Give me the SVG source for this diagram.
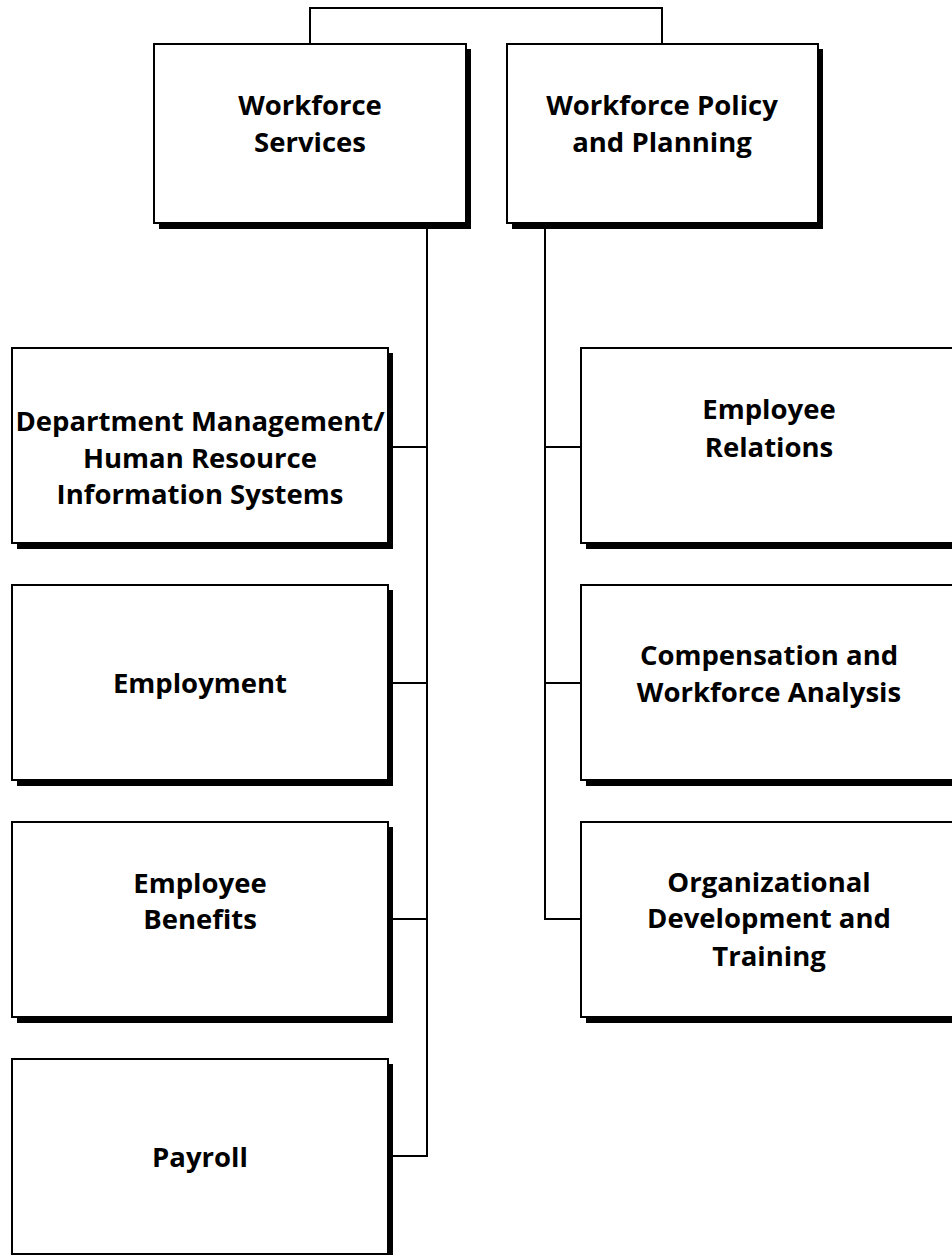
<svg xmlns="http://www.w3.org/2000/svg" width="952" height="1255" viewBox="0 0 952 1255">
<style>
.sh{fill:#000}
.bx{fill:#fff;stroke:#000;stroke-width:2}
.ln{fill:none;stroke:#000;stroke-width:2}
text{font-family:"Open Sans","Liberation Sans",sans-serif;font-weight:bold;font-size:27.5px;fill:#000;text-anchor:middle}
</style>
<rect width="952" height="1255" fill="#fff"/>
<g id="connectors">
<polyline class="ln" points="310,44 310,8 662,8 662,44"/>
<line class="ln" x1="427" y1="228" x2="427" y2="1157"/>
<line class="ln" x1="388" y1="447" x2="427" y2="447"/>
<line class="ln" x1="388" y1="683" x2="427" y2="683"/>
<line class="ln" x1="388" y1="919" x2="427" y2="919"/>
<line class="ln" x1="388" y1="1156" x2="428" y2="1156"/>
<line class="ln" x1="545" y1="228" x2="545" y2="919"/>
<line class="ln" x1="545" y1="447" x2="581" y2="447"/>
<line class="ln" x1="545" y1="683" x2="581" y2="683"/>
<line class="ln" x1="544" y1="919" x2="581" y2="919"/>
</g>
<g id="workforce-services">
<rect class="sh" x="159" y="49" width="312" height="180"/>
<rect class="bx" x="154" y="44" width="312" height="179"/>
<text x="310" y="115">Workforce</text>
<text x="310" y="152">Services</text>
</g>
<g id="workforce-policy">
<rect class="sh" x="512" y="49" width="311" height="180"/>
<rect class="bx" x="507" y="44" width="311" height="179"/>
<text x="662" y="115">Workforce Policy</text>
<text x="662" y="152">and Planning</text>
</g>
<g id="dept-mgmt">
<rect class="sh" x="17" y="353" width="376" height="196"/>
<rect class="bx" x="12" y="348" width="376" height="195"/>
<text x="200" y="431">Department Management/</text>
<text x="200" y="468">Human Resource</text>
<text x="200" y="504">Information Systems</text>
</g>
<g id="employment">
<rect class="sh" x="17" y="590" width="376" height="196"/>
<rect class="bx" x="12" y="585" width="376" height="195"/>
<text x="200" y="693">Employment</text>
</g>
<g id="employee-benefits">
<rect class="sh" x="17" y="827" width="376" height="196"/>
<rect class="bx" x="12" y="822" width="376" height="195"/>
<text x="200" y="893">Employee</text>
<text x="200" y="929">Benefits</text>
</g>
<g id="payroll">
<rect class="sh" x="17" y="1064" width="376" height="196"/>
<rect class="bx" x="12" y="1059" width="376" height="195"/>
<text x="200" y="1167">Payroll</text>
</g>
<g id="employee-relations">
<rect class="sh" x="586" y="353" width="376" height="196"/>
<rect class="bx" x="581" y="348" width="376" height="195"/>
<text x="769" y="419">Employee</text>
<text x="769" y="457">Relations</text>
</g>
<g id="compensation">
<rect class="sh" x="586" y="590" width="376" height="196"/>
<rect class="bx" x="581" y="585" width="376" height="195"/>
<text x="769" y="665">Compensation and</text>
<text x="769" y="702">Workforce Analysis</text>
</g>
<g id="org-dev">
<rect class="sh" x="586" y="827" width="376" height="196"/>
<rect class="bx" x="581" y="822" width="376" height="195"/>
<text x="769" y="892">Organizational</text>
<text x="769" y="928">Development and</text>
<text x="769" y="966">Training</text>
</g>
</svg>
